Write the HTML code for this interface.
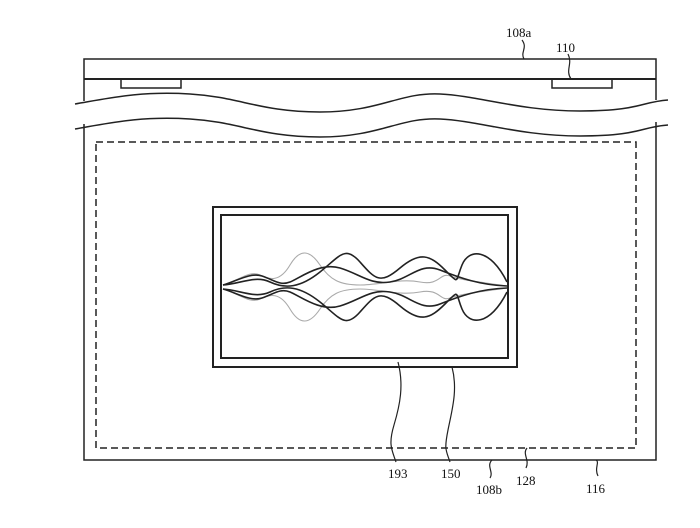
<!DOCTYPE html><html><head><style>body{margin:0;background:#fff}svg{display:block}text{font-family:"Liberation Serif",serif;font-size:13px;fill:#111}</style></head><body>
<svg width="700" height="528" viewBox="0 0 700 528" xmlns="http://www.w3.org/2000/svg">
<g fill="none" stroke="#222" stroke-width="1.5">
<path d="M84 101 V59 H656 V100"/>
<line x1="84" y1="79" x2="656" y2="79" stroke-width="2"/>
<path d="M121 79 V88 H181 V79"/>
<path d="M552 79 V88 H612 V79"/>
<path d="M75 104 C110 98 140 91 190 94 S260 112 320 112 S400 92 440 94 S520 111 580 111 S640 102 668 100"/>
<path d="M75 129 C110 123 140 116 190 119 S260 137 320 137 S400 117 440 119 S520 136 580 136 S640 127 668 125"/>
<path d="M84 124 V460 H656 V122"/>
<rect x="96" y="142" width="540" height="306" stroke-dasharray="7,4"/>
<rect x="213" y="207" width="304" height="160" stroke-width="2"/>
<rect x="221" y="215" width="287" height="143" stroke-width="2"/>
<g stroke="#aaa" stroke-width="1.1">
<path d="M223 285 C240 280 250 270 260 275 S280 282 290 265 S310 250 320 265 S340 285 360 285 S400 278 420 282 S440 272 450 276 S480 282 507 286"/>
<path d="M223 289 C240 294 250 304 260 299 S280 292 290 309 S310 324 320 309 S340 289 360 289 S400 296 420 292 S440 302 450 298 S480 292 507 288"/>
</g>
<g stroke="#222" stroke-width="1.6">
<path d="M223 285 C235 282 250 272 262 276 S280 286 290 282 S320 262 340 268 S370 285 390 282 S420 262 440 270 S480 285 507 286"/>
<path d="M223 289 C235 292 250 302 262 298 S280 288 290 292 S320 312 340 306 S370 289 390 292 S420 312 440 304 S480 289 507 288"/>
<path d="M223 285 C240 284 255 275 270 282 S300 288 320 272 S345 245 360 262 S380 285 400 268 S430 255 445 270 S455 282 462 265 S490 248 507 282"/>
<path d="M223 289 C240 290 255 299 270 292 S300 286 320 302 S345 329 360 312 S380 289 400 306 S430 319 445 304 S455 292 462 309 S490 326 507 292"/>
</g>
<g stroke-width="1.2">
<path d="M398 362 C404 385 400 405 394 425 S392 450 396 462"/>
<path d="M452 367 C458 390 452 410 448 430 S446 450 450 462"/>
<path d="M524 59 C520 52 528 48 522 40"/>
<path d="M571 79 C565 70 573 64 568 54"/>
<path d="M492 460 C486 466 494 472 490 478"/>
<path d="M527 448 C522 454 530 460 526 468"/>
<path d="M596 460 C600 462 594 468 598 476"/>
</g>
</g>
<text x="506" y="37">108a</text>
<text x="556" y="52">110</text>
<text x="388" y="478">193</text>
<text x="441" y="478">150</text>
<text x="476" y="494">108b</text>
<text x="516" y="485">128</text>
<text x="586" y="493">116</text>
</svg></body></html>
